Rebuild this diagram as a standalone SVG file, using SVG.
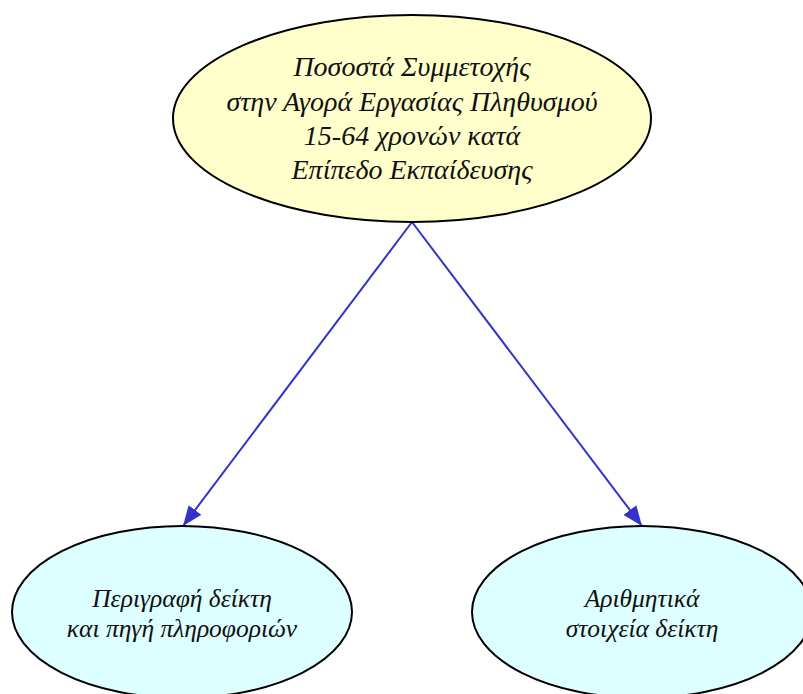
<svg xmlns="http://www.w3.org/2000/svg" width="803" height="694" viewBox="0 0 803 694">
<defs>
<style>
.node ellipse{stroke:#000;stroke-width:2}
.t{font-family:"Liberation Serif","DejaVu Serif",serif;font-style:italic;fill:#111;text-anchor:middle}
.big{font-size:28px}
.small{font-size:25.5px}
.edge{stroke:#3333cc;stroke-width:2;fill:none}
</style>
<marker id="ah" markerWidth="22" markerHeight="16" refX="20" refY="8" orient="auto" markerUnits="userSpaceOnUse">
<path d="M0,0 L20,8 L0,16 Z" fill="#3333cc"/>
</marker>
</defs>
<rect width="803" height="694" fill="#fff"/>
<g id="edges">
<line class="edge" x1="412" y1="222" x2="183" y2="526" marker-end="url(#ah)"/>
<line class="edge" x1="412" y1="222" x2="642" y2="526" marker-end="url(#ah)"/>
</g>
<g id="n_top" class="node">
<ellipse cx="412" cy="118.5" rx="239" ry="103.5" fill="#ffffcc"/>
<text class="t big" x="412" y="76">Ποσοστά Συμμετοχής</text>
<text class="t big" x="412" y="111">στην Αγορά Εργασίας Πληθυσμού</text>
<text class="t big" x="412" y="145">15-64 χρονών κατά</text>
<text class="t big" x="412" y="179">Επίπεδο Εκπαίδευσης</text>
</g>
<g id="n_left" class="node">
<ellipse cx="182" cy="612" rx="170" ry="86" fill="#ddffff"/>
<text class="t small" x="182" y="607">Περιγραφή δείκτη</text>
<text class="t small" x="182" y="637">και πηγή πληροφοριών</text>
</g>
<g id="n_right" class="node">
<ellipse cx="642" cy="612" rx="170" ry="86" fill="#ddffff"/>
<text class="t small" x="642" y="607">Αριθμητικά</text>
<text class="t small" x="642" y="637">στοιχεία δείκτη</text>
</g>
</svg>
